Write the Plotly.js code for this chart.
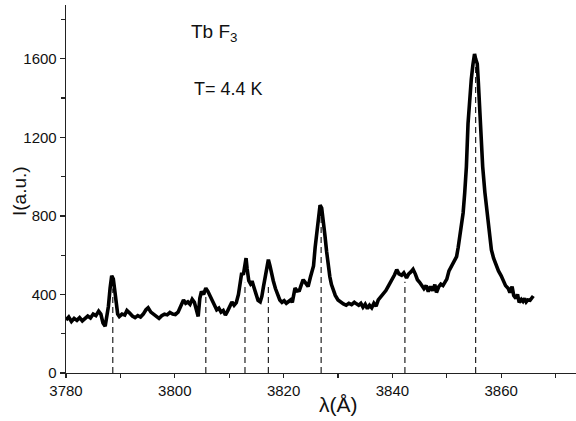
<!DOCTYPE html>
<html>
<head>
<meta charset="utf-8">
<script src="https://cdn.plot.ly/plotly-3.0.1.min.js"></script>
<style>html,body{margin:0;padding:0;background:#fff;}#chart{width:576px;height:421px;}</style>
</head>
<body>
<div id="chart"></div>
<script>
// Spectrum of TbF3 at T = 4.4 K
const wavelength = [
3780.0,3780.5,3781.0,3781.5,3782.0,3782.5,3783.0,3783.5,3784.0,3784.5,3785.0,3785.5,3786.0,3786.4,3786.8,3787.2,3787.5,3787.8,3788.1,3788.4,
3788.7,3789.0,3789.2,3789.5,3789.8,3790.3,3790.8,3791.2,3791.7,3792.2,3792.7,3793.2,3793.7,3794.2,3794.7,3795.1,3795.6,3796.1,3796.6,3797.1,
3797.6,3798.1,3798.6,3799.1,3799.6,3800.1,3800.6,3801.1,3801.6,3802.0,3802.4,3802.8,3803.2,3803.6,3804.0,3804.3,3804.6,3804.9,3805.3,3805.7,
3806.1,3806.5,3806.9,3807.3,3807.7,3808.1,3808.5,3808.9,3809.3,3809.7,3810.1,3810.5,3810.9,3811.3,3811.7,3812.0,3812.3,3812.6,3812.9,3813.1,
3813.3,3813.6,3813.9,3814.2,3814.5,3814.9,3815.3,3815.7,3816.0,3816.3,3816.6,3816.9,3817.2,3817.5,3817.8,3818.1,3818.5,3818.9,3819.3,3819.7,
3820.1,3820.5,3820.9,3821.3,3821.6,3821.9,3822.1,3822.5,3822.9,3823.2,3823.6,3824.0,3824.5,3824.9,3825.2,3825.5,3825.8,3826.1,3826.4,3826.7,
3827.0,3827.3,3827.6,3827.9,3828.2,3828.5,3828.8,3829.1,3829.5,3830.0,3830.5,3831.0,3831.5,3832.0,3832.5,3833.0,3833.4,3833.8,3834.2,3834.6,
3835.0,3835.4,3835.8,3836.2,3836.6,3837.0,3837.4,3837.8,3838.3,3838.8,3839.2,3839.6,3840.0,3840.4,3840.8,3841.2,3841.7,3842.1,3842.6,3843.0,
3843.4,3843.8,3844.2,3844.6,3845.0,3845.4,3845.8,3846.2,3846.6,3847.0,3847.4,3847.8,3848.1,3848.5,3848.9,3849.3,3849.7,3850.0,3850.4,3850.9,
3851.3,3851.8,3852.1,3852.4,3852.7,3853.0,3853.3,3853.6,3853.9,3854.2,3854.5,3854.8,3855.1,3855.3,3855.6,3855.8,3856.0,3856.3,3856.6,3857.0,
3857.4,3857.8,3858.2,3858.6,3859.1,3859.5,3860.0,3860.4,3860.8,3861.3,3861.6,3862.0,3862.3,3862.7,3863.0,3863.3,3863.7,3864.0,3864.3,3864.6,
3864.9,3865.3,3865.7,3865.9
];
const intensity = [
270,285,262,278,268,282,265,276,290,280,300,292,315,300,255,238,290,340,430,495,
478,400,340,300,288,300,295,318,305,290,282,292,285,300,322,332,310,300,285,278,
292,300,296,308,300,298,310,345,372,355,362,350,375,360,325,288,380,415,400,432,
415,390,365,340,322,330,310,318,295,315,340,362,345,358,400,470,510,500,545,585,
530,470,455,468,440,410,370,362,390,440,480,540,577,545,500,470,430,400,372,360,
368,355,362,372,360,400,432,418,420,445,475,460,440,485,510,545,640,712,800,855,
840,780,700,620,540,490,450,420,395,372,360,352,345,355,348,360,352,345,355,335,
350,328,345,332,355,340,372,385,405,420,440,458,480,500,526,505,498,510,485,505,
515,528,505,475,462,448,430,445,415,440,420,450,410,438,452,445,460,478,520,550,
565,593,640,695,750,815,920,1050,1270,1400,1495,1570,1625,1600,1575,1480,1360,1200,1050,920,
815,720,627,585,543,520,495,470,445,430,410,440,395,380,400,360,375,365,380,362,
372,370,385,392
];
// Line positions (dashed markers) and their heights
const linePos = [3788.6, 3805.7, 3812.9, 3817.2, 3826.9, 3842.3, 3855.3];
const lineTop = [430, 390, 460, 440, 810, 465, 1560];
const xTickVals = [3780, 3800, 3820, 3840, 3860];
const yTickVals = [0, 400, 800, 1200, 1600];

const dx = [], dy = [];
linePos.forEach((p, i) => { dx.push(p, p, null); dy.push(0, lineTop[i], null); });

const traces = [
  {x: dx, y: dy, mode: 'lines', line: {color: '#222', width: 1.2, dash: '6px,4px'}, hoverinfo: 'skip', showlegend: false},
  {x: wavelength, y: intensity, mode: 'lines', line: {color: '#000', width: 3.6}, showlegend: false}
];

const font = 'Liberation Sans, Arial, sans-serif';
const layout = {
  width: 576, height: 421,
  margin: {l: 66, r: 0, t: 5, b: 48},
  paper_bgcolor: '#fff', plot_bgcolor: '#fff',
  showlegend: false,
  xaxis: {
    range: [3780, 3873.75], showgrid: false, zeroline: false,
    showline: true, linecolor: '#222', linewidth: 1.3,
    tickmode: 'array', tickvals: xTickVals, ticktext: xTickVals.map(String),
    ticks: 'outside', ticklen: 4, tickwidth: 1.2, tickcolor: '#222',
    minor: {dtick: 10, tick0: 3780, ticks: 'outside', ticklen: 4, tickwidth: 1.2, tickcolor: '#222'},
    tickfont: {family: font, size: 15, color: '#111'}
  },
  yaxis: {
    range: [0, 1874], showgrid: false, zeroline: false,
    showline: true, linecolor: '#222', linewidth: 1.3,
    tickmode: 'array', tickvals: yTickVals, ticktext: yTickVals.map(String),
    ticks: 'outside', ticklen: 5, tickwidth: 1.2, tickcolor: '#222',
    minor: {dtick: 200, tick0: 0, ticks: 'outside', ticklen: 4, tickwidth: 1.2, tickcolor: '#222'},
    tickfont: {family: font, size: 15, color: '#111'}
  },
  annotations: [
    {text: 'Tb F<sub>3</sub>', xref: 'paper', yref: 'paper', x: (189-66)/510, y: (373-33)/368, xanchor: 'left', yanchor: 'middle', showarrow: false, font: {family: font, size: 19, color: '#111'}},
    {text: 'T= 4.4 K', xref: 'paper', yref: 'paper', x: (192-66)/510, y: (373-89)/368, xanchor: 'left', yanchor: 'middle', showarrow: false, font: {family: font, size: 18, color: '#111'}},
    {text: 'λ(Å)', xref: 'paper', yref: 'paper', x: (338-66)/510, y: -(404-373)/368, xanchor: 'center', yanchor: 'middle', showarrow: false, font: {family: font, size: 21, color: '#111'}},
    {text: 'I(a.u.)', xref: 'paper', yref: 'paper', x: -(66-19)/510, y: (373-191)/368, xanchor: 'center', yanchor: 'middle', textangle: -90, showarrow: false, font: {family: font, size: 19, color: '#111'}}
  ]
};

Plotly.newPlot('chart', traces, layout, {staticPlot: true, displayModeBar: false});
</script>
</body>
</html>
